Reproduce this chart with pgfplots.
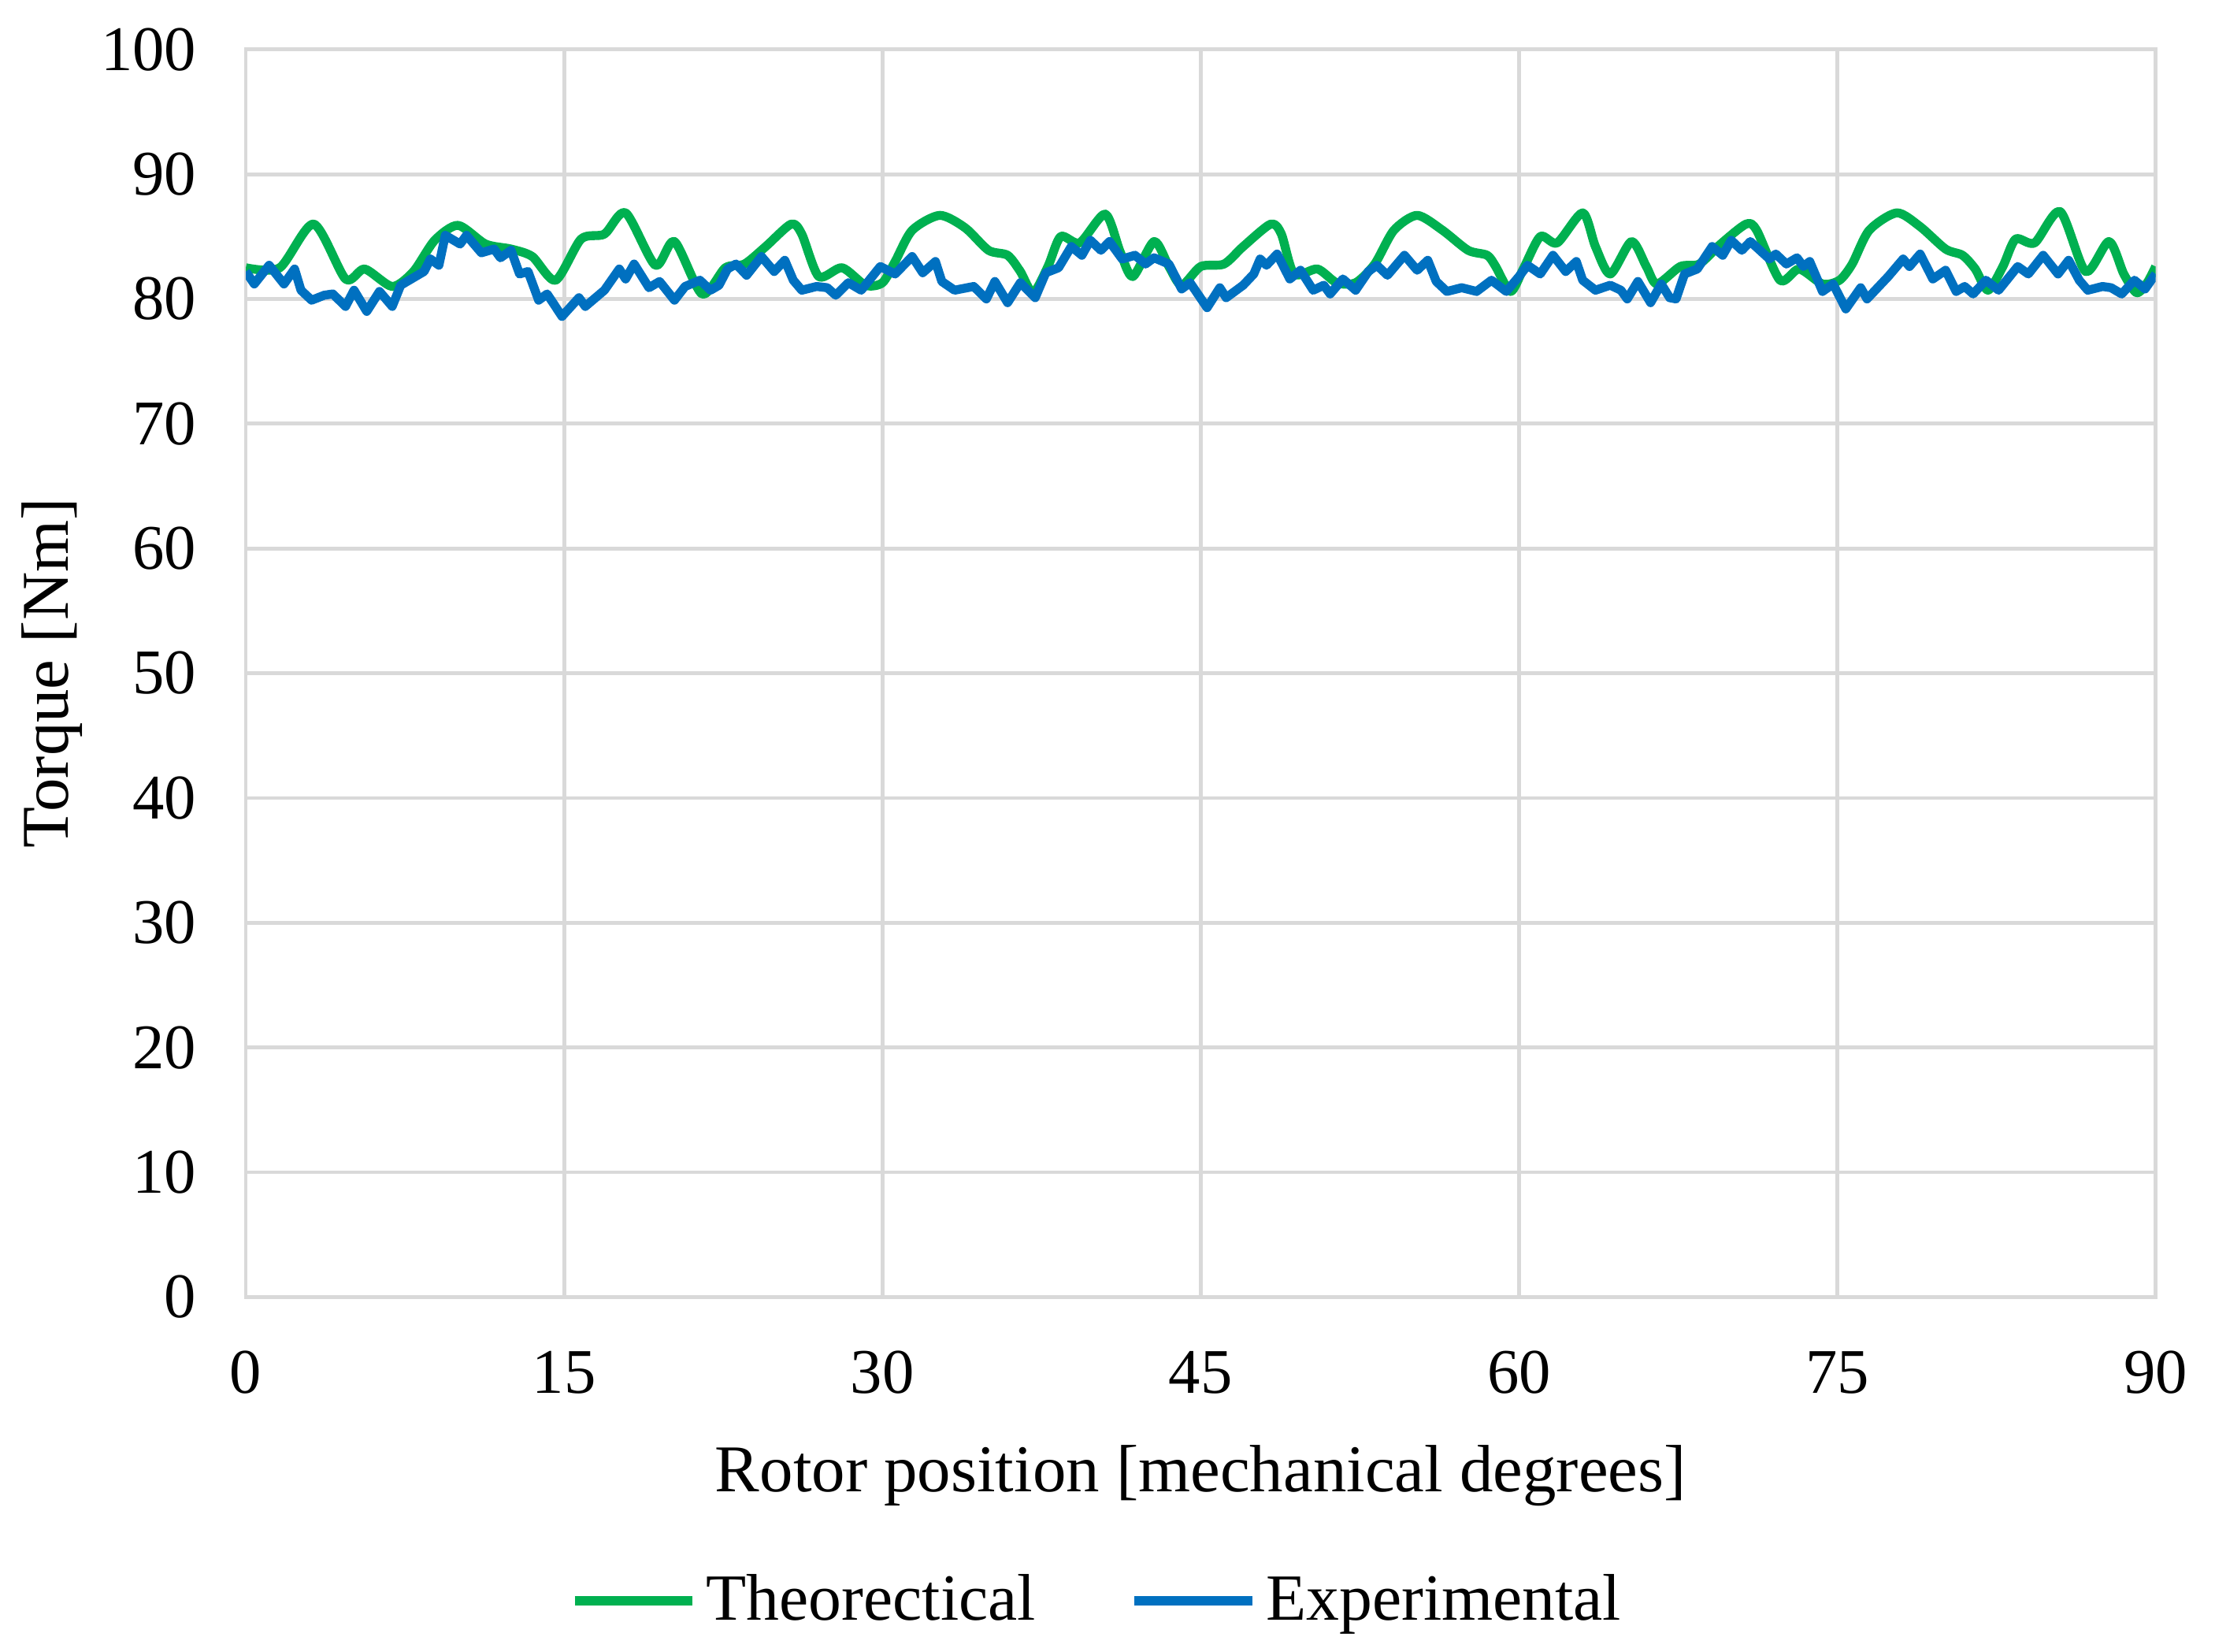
\documentclass[border=0pt]{standalone}
\usepackage{fontspec}
\setmainfont{Liberation Serif}
\usepackage{pgfplots}
\pgfplotsset{compat=1.18}
\definecolor{gridc}{HTML}{D9D9D9}
\definecolor{theo}{HTML}{00B050}
\definecolor{expe}{HTML}{0070C0}
\pgfplotstableread{
x y
0 82.5
1.6 82.5
3.2 86.0
4.7 81.6
5.6 82.4
6.9 81.0
7.9 82.2
8.9 84.7
10.0 85.9
11.3 84.4
12.5 84.0
13.5 83.4
14.6 81.5
15.8 84.8
16.9 85.2
17.9 86.9
19.3 82.7
20.2 84.6
21.5 80.4
22.6 82.5
23.5 82.8
24.5 84.2
25.7 86.0
26.2 85.2
27.0 81.8
28.1 82.5
29.2 81.1
30.0 81.3
30.6 83.0
31.4 85.5
32.7 86.7
33.9 85.7
35.0 83.9
35.9 83.5
36.5 82.2
37.1 80.5
37.8 82.6
38.4 85.0
39.3 84.5
40.5 86.8
41.2 83.8
41.8 81.8
42.8 84.6
43.5 82.6
44.1 81.1
45.0 82.6
46.1 82.8
47.0 84.2
48.3 86.0
48.8 85.2
49.4 82.0
50.5 82.4
51.4 81.3
52.3 81.3
53.2 82.8
54.1 85.5
55.2 86.7
56.4 85.5
57.6 83.9
58.5 83.5
58.9 82.6
59.6 80.6
60.2 82.4
61.0 85.0
61.8 84.5
63.0 86.9
63.6 84.2
64.3 82.0
65.3 84.6
66.0 82.6
66.5 81.2
67.6 82.6
68.5 82.8
69.5 84.4
70.7 86.0
71.2 85.5
72.3 81.5
73.2 82.4
74.3 81.2
75.1 81.5
75.7 82.8
76.5 85.5
77.8 86.9
78.9 85.8
80.1 84.0
80.9 83.5
81.5 82.4
82.1 80.7
82.8 82.6
83.4 84.8
84.3 84.5
85.5 87.0
86.7 82.2
87.8 84.6
88.5 82.0
89.1 80.5
89.6 81.3
90.0 82.6
}\theo
\pgfplotstableread{
x y
0 82.2
0.4 81.2
1.1 82.7
1.8 81.2
2.3 82.4
2.6 80.7
3.1 79.9
3.7 80.3
4.1 80.4
4.7 79.4
5.1 80.7
5.7 79.0
6.3 80.6
6.9 79.4
7.3 81.1
7.8 81.6
8.4 82.2
8.7 83.2
9.1 82.7
9.4 85.1
10.1 84.4
10.4 85.1
11.1 83.7
11.7 84.0
12.0 83.3
12.5 83.9
12.9 82.0
13.3 82.2
13.8 79.9
14.2 80.4
14.9 78.6
15.7 80.1
16.0 79.4
16.9 80.7
17.6 82.4
17.9 81.6
18.3 82.8
19.0 80.9
19.5 81.4
20.2 79.9
20.7 81.0
21.4 81.5
21.9 80.7
22.3 81.1
22.7 82.4
23.1 82.8
23.6 81.9
24.3 83.4
24.9 82.2
25.4 83.1
25.8 81.5
26.2 80.7
26.9 81.0
27.4 80.9
27.8 80.3
28.4 81.3
29.0 80.7
29.9 82.6
30.6 82.0
31.4 83.4
31.9 82.1
32.5 83.0
32.8 81.4
33.4 80.7
34.3 81.0
34.9 80.0
35.3 81.4
35.9 79.7
36.5 81.3
37.2 80.1
37.7 82.1
38.3 82.5
38.9 84.2
39.4 83.5
39.8 84.7
40.3 83.9
40.7 84.6
41.3 83.2
41.9 83.5
42.4 82.8
42.8 83.3
43.5 82.8
44.1 80.8
44.5 81.3
45.3 79.3
45.9 80.9
46.2 80.1
47.0 81.1
47.5 82.0
47.8 83.2
48.1 82.7
48.6 83.6
49.2 81.6
49.7 82.3
50.3 80.7
50.8 81.1
51.1 80.4
51.7 81.6
52.3 80.7
52.9 82.2
53.3 82.7
53.8 81.9
54.6 83.5
55.2 82.3
55.7 83.1
56.1 81.4
56.6 80.6
57.3 80.9
58.0 80.6
58.7 81.5
59.4 80.6
60.0 81.8
60.4 82.7
61.0 82.0
61.6 83.5
62.2 82.2
62.7 83.0
63.0 81.5
63.6 80.7
64.3 81.1
64.8 80.7
65.1 80.0
65.6 81.4
66.2 79.7
66.7 81.2
67.1 80.1
67.4 80.0
67.8 82.0
68.4 82.4
69.1 84.2
69.6 83.5
70.0 84.7
70.5 83.9
70.9 84.6
71.8 83.2
72.1 83.6
72.6 82.8
73.1 83.3
73.4 82.6
73.7 83.0
74.3 80.6
74.8 81.2
75.4 79.2
76.1 80.9
76.4 80.0
77.4 81.8
78.1 83.2
78.4 82.6
78.9 83.6
79.5 81.6
80.1 82.3
80.6 80.6
81.0 81.0
81.4 80.4
82.0 81.5
82.6 80.7
83.5 82.6
84.0 82.0
84.7 83.5
85.4 82.0
85.9 83.1
86.4 81.5
86.8 80.7
87.5 81.0
87.9 80.9
88.4 80.4
89.0 81.5
89.5 80.8
90.0 82.0
}\expe
\begin{document}
\begin{tikzpicture}[font=\fontsize{13.5}{16}\selectfont]
\begin{axis}[
  scale only axis,
  width=405.6pt, height=264.9pt,
  xmin=0, xmax=90, ymin=0, ymax=100,
  xtick={0,15,...,90}, ytick={0,10,...,100},
  major tick length=0pt,
  grid=major,
  major grid style={gridc, line width=0.8pt},
  axis line style={gridc, line width=0.8pt},
  /pgf/number format/assume math mode=true,
  yticklabel style={xshift=-7pt},
  xticklabel style={yshift=-8pt},
  xlabel={Rotor position [mechanical degrees]},
  ylabel={Torque [Nm]},
  label style={font=\fontsize{14.2}{17}\selectfont},
  xlabel style={yshift=-4pt},
  ylabel style={yshift=-3pt},
  legend style={draw=none, fill=none, legend columns=2, at={(0.4475,-0.2435)}, anchor=center,
    font=\fontsize{14}{17}\selectfont,
    /tikz/every even column/.append style={column sep=18pt},
    /tikz/every odd column/.append style={column sep=0pt},
    nodes={inner xsep=2pt}},
  legend image code/.code={\draw[#1, line width=1.9pt] (0pt,0pt) -- (25pt,0pt);},
]
\coordinate (O) at (rel axis cs:0,0);
\addplot[theo, line width=1.9pt, smooth, tension=0.45, line join=round] table {\theo};
\addplot[expe, line width=1.9pt, line join=round] table {\expe};
\legend{Theorectical, Experimental}
\end{axis}
\pgfresetboundingbox
\useasboundingbox ([xshift=-52.2pt, yshift=-75.3pt]O) rectangle ++(470.4pt, 350.7pt);
\end{tikzpicture}
\end{document}
